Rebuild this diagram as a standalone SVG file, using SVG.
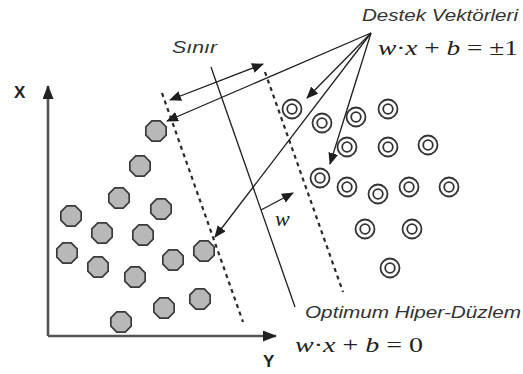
<svg xmlns="http://www.w3.org/2000/svg" xmlns:xlink="http://www.w3.org/1999/xlink" width="523" height="374" viewBox="0 0 523 374">
<style>
.oct{fill:#b8b8b8;stroke:#3a3a3a;stroke-width:1.7}
.ro{fill:#fff;stroke:#333;stroke-width:1.8}
.ln{stroke:#1e1e1e;stroke-width:1.3;fill:none}
.dash{stroke:#2a2a2a;stroke-width:2.2;stroke-dasharray:4 4;fill:none}
.axis{stroke:#555;stroke-width:2.6;fill:none}
.lab{font-family:"Liberation Sans",Arial,sans-serif;font-style:italic;fill:#333;font-size:16px}
.eq{font-family:"Liberation Serif","Times New Roman",serif;fill:#222;font-size:22px}
.ax{font-family:"Liberation Sans",Arial,sans-serif;font-weight:bold;fill:#222;font-size:17px}
</style>
<defs>
<polygon id="octa" points="10.16,4.21 4.21,10.16 -4.21,10.16 -10.16,4.21 -10.16,-4.21 -4.21,-10.16 4.21,-10.16 10.16,-4.21"/>
<g id="ring"><circle r="9.5" class="ro"/><circle r="4.8" class="ro"/></g>
<marker id="ah" viewBox="0 0 12 10" refX="11" refY="5" markerWidth="12" markerHeight="10" markerUnits="userSpaceOnUse" orient="auto-start-reverse"><path d="M0,0 L12,5 L0,10 Z" fill="#1e1e1e"/></marker>
<marker id="axh" viewBox="0 0 14 11" refX="13" refY="5.5" markerWidth="14" markerHeight="11" markerUnits="userSpaceOnUse" orient="auto"><path d="M0,0 L14,5.5 L0,11 Z" fill="#222"/></marker>
</defs>
<rect width="523" height="374" fill="#fff"/>

<g id="axes">
<path class="axis" d="M48,336 V86" marker-end="url(#axh)"/>
<path class="axis" d="M48,336 H276" marker-end="url(#axh)"/>
</g>

<g id="class-a">
<use xlink:href="#octa" class="oct" x="156" y="131"/>
<use xlink:href="#octa" class="oct" x="140" y="166"/>
<use xlink:href="#octa" class="oct" x="119" y="198"/>
<use xlink:href="#octa" class="oct" x="161" y="209"/>
<use xlink:href="#octa" class="oct" x="71" y="216"/>
<use xlink:href="#octa" class="oct" x="102" y="233"/>
<use xlink:href="#octa" class="oct" x="143" y="235"/>
<use xlink:href="#octa" class="oct" x="67" y="253"/>
<use xlink:href="#octa" class="oct" x="98" y="267"/>
<use xlink:href="#octa" class="oct" x="204" y="251"/>
<use xlink:href="#octa" class="oct" x="173" y="260"/>
<use xlink:href="#octa" class="oct" x="135" y="277"/>
<use xlink:href="#octa" class="oct" x="200" y="299"/>
<use xlink:href="#octa" class="oct" x="164" y="308"/>
<use xlink:href="#octa" class="oct" x="121" y="322"/>
</g>

<g id="class-b">
<use xlink:href="#ring" x="292" y="109"/>
<use xlink:href="#ring" x="322" y="123"/>
<use xlink:href="#ring" x="356" y="117"/>
<use xlink:href="#ring" x="388" y="109"/>
<use xlink:href="#ring" x="347" y="147"/>
<use xlink:href="#ring" x="388" y="147"/>
<use xlink:href="#ring" x="428" y="145"/>
<use xlink:href="#ring" x="320" y="178"/>
<use xlink:href="#ring" x="347" y="187"/>
<use xlink:href="#ring" x="378" y="194"/>
<use xlink:href="#ring" x="409" y="187"/>
<use xlink:href="#ring" x="449" y="187"/>
<use xlink:href="#ring" x="365" y="229"/>
<use xlink:href="#ring" x="412" y="229"/>
<use xlink:href="#ring" x="390" y="268"/>
</g>

<g id="connectors">
<path class="dash" d="M162,93 L243,322"/>
<path class="dash" d="M265,72 L343,292"/>
<path class="ln" d="M211,67 L295,307"/>
<path class="ln" d="M170,100 L263,64" marker-start="url(#ah)" marker-end="url(#ah)"/>
<path class="ln" d="M371,33 L167,121" marker-end="url(#ah)"/>
<path class="ln" d="M371,33 L307,98" marker-end="url(#ah)"/>
<path class="ln" d="M371,33 L215,237" marker-end="url(#ah)"/>
<path class="ln" d="M371,33 L330,164" marker-end="url(#ah)"/>
<path class="ln" d="M261,210 L293,193" marker-end="url(#ah)"/>
</g>

<g id="labels">
<text class="lab" x="362" y="21" textLength="156" lengthAdjust="spacingAndGlyphs">Destek Vektörleri</text>
<text class="eq" x="378" y="55" textLength="140" lengthAdjust="spacingAndGlyphs"><tspan font-style="italic">w</tspan>·<tspan font-style="italic">x</tspan> + <tspan font-style="italic">b</tspan> = ±1</text>
<text class="lab" x="172" y="53" textLength="45" lengthAdjust="spacingAndGlyphs">Sınır</text>
<text class="lab" x="305" y="318" textLength="216" lengthAdjust="spacingAndGlyphs">Optimum Hiper-Düzlem</text>
<text class="eq" x="295" y="352" textLength="128" lengthAdjust="spacingAndGlyphs"><tspan font-style="italic">w</tspan>·<tspan font-style="italic">x</tspan> + <tspan font-style="italic">b</tspan> = 0</text>
<text class="eq" x="275" y="226" font-size="17" font-style="italic">w</text>
<text class="ax" x="14" y="98">X</text>
<text class="ax" x="263" y="367">Y</text>
</g>
</svg>
